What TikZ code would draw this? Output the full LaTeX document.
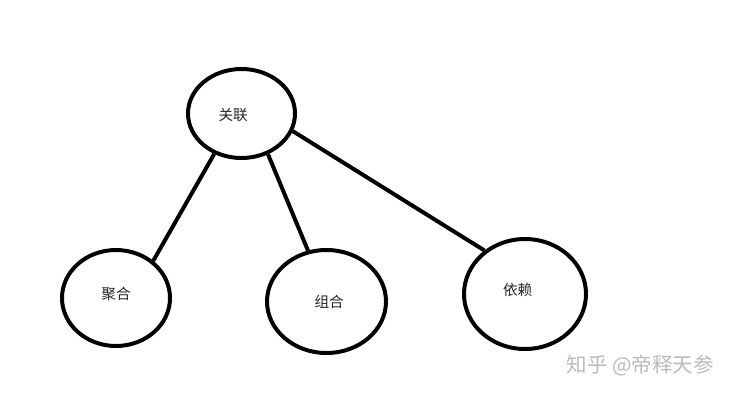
\documentclass[tikz,border=0pt]{standalone}
\usepackage{fontspec}
\usetikzlibrary{shapes.geometric}
\newfontfamily\cjk{Noto Sans CJK SC}
\begin{document}
\begin{tikzpicture}[x=0.03cm,y=-0.03cm,
  every node/.style={font=\cjk\fontsize{12.5}{14}\selectfont,text=black!85},
  relbox/.style={draw,ellipse,line width=3.4pt,inner sep=0pt},
  link/.style={line width=3.4pt}]
\useasboundingbox (0,0) rectangle (738,400);
% Ellipses
\node[relbox,minimum width=3.21cm,minimum height=2.67cm,label={[xshift=-0.25cm,yshift=-0.05cm]center:关联}] (gl) at (241.5,113.5) {};
\node[relbox,minimum width=3.24cm,minimum height=2.88cm,label={[yshift=0.12cm]center:聚合}] (jh) at (116,298) {};
\node[relbox,minimum width=3.57cm,minimum height=3.09cm,label={[xshift=0.08cm]center:组合}] (zh) at (326.5,301.5) {};
\node[relbox,minimum width=3.66cm,minimum height=3.3cm,label={[xshift=-0.22cm,yshift=0.13cm]center:依赖}] (yl) at (525,294) {};
% Links
\draw[link] (gl.236.5) -- (jh.45.8);
\draw[link] (gl.303) -- (zh.110.5);
\draw[link] (gl.341) -- (yl.133.7);
% Watermark
\node[font=\cjk\fontsize{17.5}{19}\selectfont,text=black!27] (wm) at (640,366) {知乎 @帝释天参};
\end{tikzpicture}
\end{document}
